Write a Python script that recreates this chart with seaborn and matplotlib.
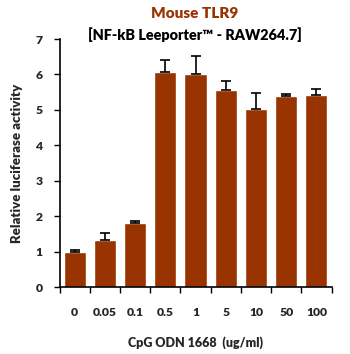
import numpy as np
import pandas as pd
import matplotlib
matplotlib.use("Agg")
import matplotlib.pyplot as plt
import seaborn as sns

doses = ["0", "0.05", "0.1", "0.5", "1", "5", "10", "50", "100"]
activity = [1.00, 1.33, 1.81, 6.06, 6.01, 5.56, 5.02, 5.39, 5.42]
sd = [0.04, 0.19, 0.05, 0.36, 0.52, 0.27, 0.47, 0.07, 0.16]

sns.set_style("white")
plt.rcParams['font.family'] = ['Lato', 'DejaVu Sans']
plt.rcParams['font.weight'] = 'heavy'

df = pd.DataFrame({"dose": doses, "activity": activity})

fig = plt.figure(figsize=(3.5, 3.54), dpi=100)
ax = fig.add_axes([59.5/350, 1 - 287.3/354, 272/350, (287.3-39)/354])

sns.barplot(data=df, x="dose", y="activity", color="#993300", saturation=1,
            width=0.73, ax=ax, errorbar=None)
ax.errorbar(np.arange(len(doses)), activity, yerr=[np.zeros(len(sd)), sd],
            fmt="none", ecolor="black", elinewidth=1.2, capsize=3.5, capthick=1.2)

ax.set_xlim(-0.5, len(doses) - 0.5)
ax.set_ylim(0, 7)
ax.set_yticks(range(8))
ax.set_xticks(np.arange(-0.5, len(doses)), minor=True)
ax.tick_params(axis="x", which="major", length=0, pad=14, labelsize=8.7)
ax.tick_params(axis="x", which="minor", length=4, width=1, color="black", direction="out", bottom=True)
ax.tick_params(axis="y", length=4, width=1, color="black", direction="out", left=True, pad=8, labelsize=8.7)
for lab in ax.get_xticklabels() + ax.get_yticklabels():
    lab.set_fontweight("heavy")

sns.despine(ax=ax)
for s in ["left", "bottom"]:
    ax.spines[s].set_color("black")
    ax.spines[s].set_linewidth(1.2)

ax.set_xlabel("CpG ODN 1668  (ug/ml)", fontsize=9, fontweight="heavy", labelpad=13)
ax.set_ylabel("Relative luciferase activity", fontsize=9.5, fontweight="heavy", labelpad=9)

fig.text(0.5 + 20/350, 1 - 14/354, "Mouse TLR9", color="#993300", fontsize=11,
         fontweight="heavy", ha="center", va="center")
fig.text(0.5 + 20/350, 1 - 35/354, "[NF-kB Leeporter\u2122 - RAW264.7]", color="black",
         fontsize=10.4, fontweight="heavy", ha="center", va="center")

fig.savefig("out.png", dpi=100)
